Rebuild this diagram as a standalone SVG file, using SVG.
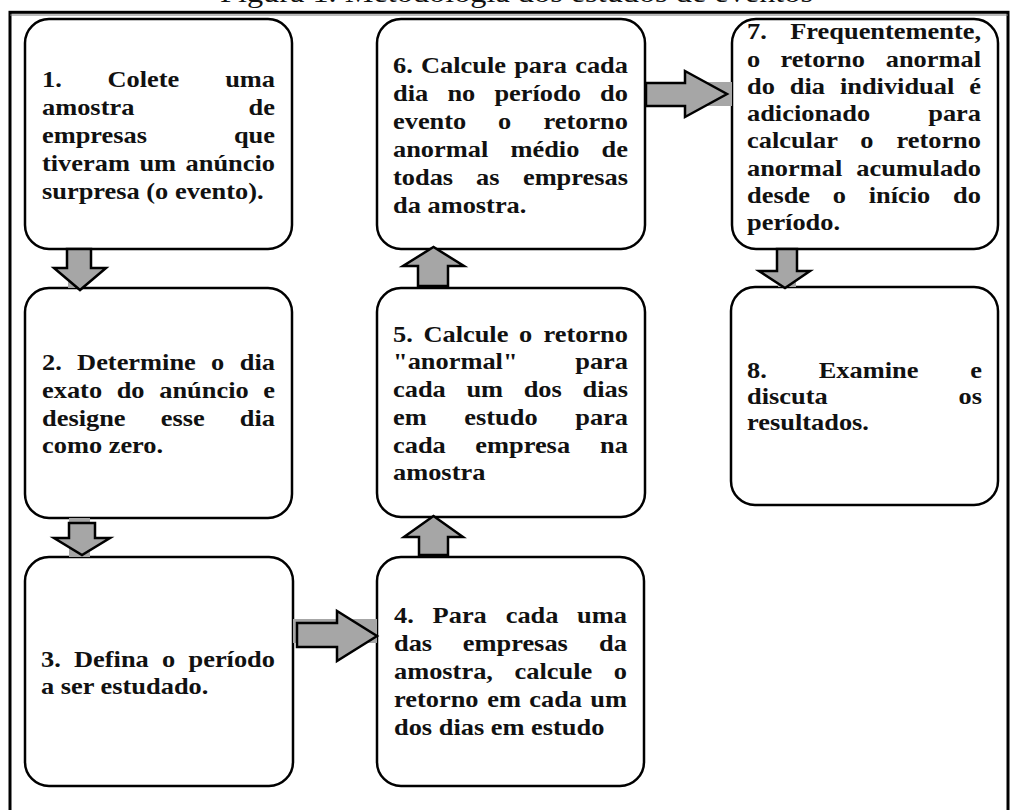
<svg xmlns="http://www.w3.org/2000/svg" width="1012" height="810" viewBox="0 0 1012 810">
<style>
.t{font-family:"Liberation Serif","Times New Roman",serif;font-weight:bold;font-size:24px;fill:#111}
.e{text-anchor:end}
.box{fill:#fff;stroke:#000;stroke-width:2.5}
.arr{fill:#a6a6a6;stroke:#000;stroke-width:2.5;stroke-linejoin:miter}
.sh{fill:#a6a6a6}
.ttl{font-family:"Liberation Serif","Times New Roman",serif;font-size:28px;fill:#111}
</style>
<rect width="1012" height="810" fill="#fff"/>
<text class="ttl" x="220" y="1.5" textLength="593" lengthAdjust="spacingAndGlyphs">Figura 1. Metodologia dos estudos de eventos</text>
<rect x="10" y="12.3" width="998" height="820" fill="none" stroke="#000" stroke-width="3"/>
<line x1="10" y1="15" x2="1008" y2="15" stroke="#777" stroke-width="1"/>

<g id="node1">
<rect class="box" x="25" y="19" width="267" height="230" rx="24"/>
<g class="t" transform="scale(1.1 1)">
<text x="38.18" y="87">1.</text><text x="97.73" y="87">Colete</text><text class="e" x="250" y="87">uma</text>
<text x="38.18" y="115">amostra</text><text class="e" x="250" y="115">de</text>
<text x="38.18" y="143">empresas</text><text class="e" x="250" y="143">que</text>
<text x="38.18" y="171">tiveram</text><text x="126.73" y="171">um</text><text class="e" x="250" y="171">anúncio</text>
<text x="38.18" y="199">surpresa (o evento).</text>
</g>
</g>

<g id="node2">
<rect class="box" x="25" y="288" width="267" height="230" rx="24"/>
<g class="t" transform="scale(1.1 1)">
<text x="38.18" y="370">2.</text><text x="70.09" y="370">Determine</text><text x="191.91" y="370">o</text><text class="e" x="250" y="370">dia</text>
<text x="38.18" y="398">exato</text><text x="106.09" y="398">do</text><text x="144.73" y="398">anúncio</text><text class="e" x="250" y="398">e</text>
<text x="38.18" y="426">designe</text><text x="146.09" y="426">esse</text><text class="e" x="250" y="426">dia</text>
<text x="38.18" y="453">como zero.</text>
</g>
</g>

<g id="node3">
<rect class="box" x="25" y="557" width="268" height="229" rx="24"/>
<g class="t" transform="scale(1.1 1)">
<text x="37.27" y="667">3.</text><text x="67.27" y="667">Defina</text><text x="147.27" y="667">o</text><text class="e" x="250" y="667">período</text>
<text x="37.27" y="694">a ser estudado.</text>
</g>
</g>

<g id="node4">
<rect class="box" x="377" y="557" width="267" height="229" rx="24"/>
<g class="t" transform="scale(1.1 1)">
<text x="358.18" y="623">4.</text><text x="393.27" y="623">Para</text><text x="459.73" y="623">cada</text><text class="e" x="570" y="623">uma</text>
<text x="358.18" y="651.5">das</text><text x="420.73" y="651.5">empresas</text><text class="e" x="570" y="651.5">da</text>
<text x="358.18" y="679.5">amostra,</text><text x="467.82" y="679.5">calcule</text><text class="e" x="570" y="679.5">o</text>
<text x="358.18" y="707.5">retorno</text><text x="443" y="707.5">em</text><text x="481.18" y="707.5">cada</text><text class="e" x="570" y="707.5">um</text>
<text x="358.18" y="735">dos dias em estudo</text>
</g>
</g>

<g id="node5">
<rect class="box" x="377" y="288" width="268" height="229" rx="24"/>
<g class="t" transform="scale(1.1 1)">
<text x="357.27" y="342">5.</text><text x="384.91" y="342">Calcule</text><text x="471.91" y="342">o</text><text class="e" x="570.91" y="342">retorno</text>
<text x="357.27" y="369">"anormal"</text><text class="e" x="570.91" y="369">para</text>
<text x="357.27" y="397">cada</text><text x="424" y="397">um</text><text x="476.09" y="397">dos</text><text class="e" x="570.91" y="397">dias</text>
<text x="357.27" y="425">em</text><text x="422.09" y="425">estudo</text><text class="e" x="570.91" y="425">para</text>
<text x="357.27" y="453">cada</text><text x="432.09" y="453">empresa</text><text class="e" x="570.91" y="453">na</text>
<text x="357.27" y="480">amostra</text>
</g>
</g>

<g id="node6">
<rect class="box" x="377" y="19" width="268" height="230" rx="24"/>
<g class="t" transform="scale(1.1 1)">
<text x="357.27" y="73">6.</text><text x="382.7" y="73">Calcule</text><text x="467.45" y="73">para</text><text class="e" x="570.91" y="73">cada</text>
<text x="357.27" y="101">dia</text><text x="406.73" y="101">no</text><text x="449.45" y="101">período</text><text class="e" x="570.91" y="101">do</text>
<text x="357.27" y="129">evento</text><text x="452.73" y="129">o</text><text class="e" x="570.91" y="129">retorno</text>
<text x="357.27" y="157">anormal</text><text x="464.09" y="157">médio</text><text class="e" x="570.91" y="157">de</text>
<text x="357.27" y="185">todas</text><text x="432.73" y="185">as</text><text class="e" x="570.91" y="185">empresas</text>
<text x="357.27" y="213">da amostra.</text>
</g>
</g>

<g id="node7">
<rect class="box" x="732" y="19" width="266" height="230" rx="24"/>
<g class="t" transform="scale(1.1 1)">
<text x="679.09" y="39">7.</text><text class="e" x="891.82" y="39">Frequentemente,</text>
<text x="679.09" y="67">o</text><text x="709.45" y="67">retorno</text><text class="e" x="891.82" y="67">anormal</text>
<text x="679.09" y="94">do</text><text x="718" y="94">dia</text><text x="763.55" y="94">individual</text><text class="e" x="891.82" y="94">é</text>
<text x="679.09" y="121">adicionado</text><text class="e" x="891.82" y="121">para</text>
<text x="679.09" y="148">calcular</text><text x="782.09" y="148">o</text><text class="e" x="891.82" y="148">retorno</text>
<text x="679.09" y="176">anormal</text><text class="e" x="891.82" y="176">acumulado</text>
<text x="679.09" y="203">desde</text><text x="757.09" y="203">o</text><text x="789.73" y="203">início</text><text class="e" x="891.82" y="203">do</text>
<text x="679.09" y="230">período.</text>
</g>
</g>

<g id="node8">
<rect class="box" x="731" y="287" width="267" height="218" rx="24"/>
<g class="t" transform="scale(1.1 1)">
<text x="679.09" y="378">8.</text><text x="744.27" y="378">Examine</text><text class="e" x="892.73" y="378">e</text>
<text x="679.09" y="404">discuta</text><text class="e" x="892.73" y="404">os</text>
<text x="679.09" y="430">resultados.</text>
</g>
</g>

<g id="connectors">
<rect class="sh" x="68" y="249" width="15" height="39"/>
<polygon class="arr" points="67,249 91,249 91,268 106,268 80,290 54,268 67,268"/>
<rect class="sh" x="69" y="518" width="21" height="39"/>
<polygon class="arr" points="69,523 95,523 95,538 110,538 82,555 54,538 69,538"/>
<rect class="sh" x="293" y="619" width="84" height="24"/>
<polygon class="arr" points="297,623 337,623 337,611 377,636 337,661 337,647 297,647"/>
<polygon class="arr" points="419,555 448,555 448,537 463,537 433.5,516 404,537 419,537"/>
<polygon class="arr" points="418,286 448,286 448,266 464,266 433.5,247 403,266 418,266"/>
<rect class="sh" x="645" y="82" width="87" height="24"/>
<polygon class="arr" points="646,83 685,83 685,71 727,94 685,117 685,106 646,106"/>
<rect class="sh" x="778" y="249" width="18" height="38"/>
<polygon class="arr" points="777,249 797,249 797,271 810,271 785,288 759,271 777,271"/>
</g>
</svg>
